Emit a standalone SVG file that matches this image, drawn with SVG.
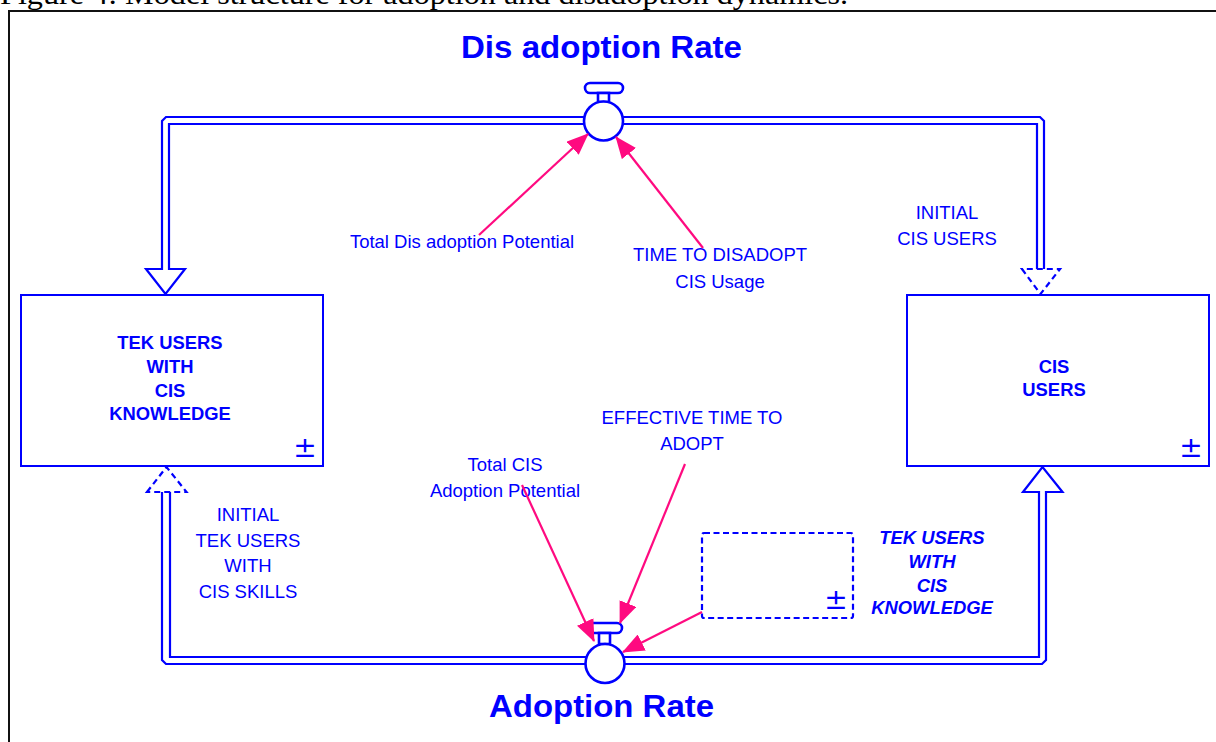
<svg xmlns="http://www.w3.org/2000/svg" width="1216" height="742" viewBox="0 0 1216 742">
  <defs>
    <marker id="arrow" viewBox="0 0 22 18" refX="21" refY="9" markerWidth="22" markerHeight="18" markerUnits="userSpaceOnUse" orient="auto">
      <path d="M0,0 L22,9 L0,18 Z" fill="#FF0A80"/>
    </marker>
    <style>
      .caption { font-family: "Liberation Serif", "Times New Roman", serif; font-size: 30px; fill: #000; }
      .frame { fill: none; stroke: #111; stroke-width: 2; }
      .pipe { fill: none; stroke: #0000FF; stroke-width: 2.2; stroke-linejoin: miter; }
      .dash { fill: none; stroke: #0000FF; stroke-width: 2.2; stroke-dasharray: 6 4; }
      .valve { fill: #fff; stroke: #0000FF; stroke-width: 2.6; }
      .stock { fill: #fff; stroke: #0000FF; stroke-width: 2; }
      .ghost { fill: #fff; stroke: #0000FF; stroke-width: 2.2; stroke-dasharray: 6 3.5; }
      .title { font-family: "Liberation Sans", Arial, sans-serif; font-size: 32px; font-weight: bold; fill: #0000FF; text-anchor: middle; }
      .name { font-family: "Liberation Sans", Arial, sans-serif; font-size: 18.4px; font-weight: bold; fill: #0000FF; text-anchor: middle; }
      .ghostname { font-family: "Liberation Sans", Arial, sans-serif; font-size: 18.4px; font-weight: bold; font-style: italic; fill: #0000FF; text-anchor: middle; }
      .label { font-family: "Liberation Sans", Arial, sans-serif; font-size: 18.5px; fill: #0000FF; text-anchor: middle; }
      .pm { font-family: "DejaVu Sans", sans-serif; font-size: 28px; fill: #0000FF; text-anchor: middle; }
      .link { fill: none; stroke: #FF0A80; stroke-width: 2.2; marker-end: url(#arrow); }
    </style>
  </defs>

  <rect width="1216" height="742" fill="#fff"/>

  <!-- caption and page frame -->
  <text class="caption" x="0" y="4" textLength="848" lengthAdjust="spacingAndGlyphs">Figure 4: Model structure for adoption and disadoption dynamics.</text>
  <path class="frame" d="M9,742 V11 H1216"/>

  <!-- flow pipes -->
  <g id="flow-pipes">
    <!-- disadoption flow: valve to left stock -->
    <path class="pipe" d="M585,117 H166 L162,121 V269 H146 L165.5,294 L185,269 H169 V124 H585"/>
    <!-- disadoption flow: toward right stock -->
    <path class="pipe" d="M622,117 H1040 L1044,121 V269 M622,124 H1037 V269"/>
    <path class="dash" d="M1022,269 L1040.5,294 L1060,269 Z"/>
    <!-- adoption flow: left stock side -->
    <path class="pipe" d="M586,657 H170 V492 M586,664 H166 L162,660 V492"/>
    <path class="dash" d="M147,492 L166.5,467 L186.5,492 Z"/>
    <!-- adoption flow: valve to right stock -->
    <path class="pipe" d="M624,657 H1039 V492 H1023 L1042.5,467 L1062.5,492 H1046 V660 L1042,664 H624"/>
  </g>

  <!-- flow valves -->
  <g id="disadoption-rate">
    <rect class="valve" x="585" y="83" width="38" height="10" rx="5"/>
    <rect class="valve" x="598" y="93" width="11" height="9"/>
    <circle class="valve" cx="603.5" cy="121" r="19.5"/>
    <text class="title" x="601.5" y="58" textLength="281" lengthAdjust="spacingAndGlyphs">Dis adoption Rate</text>
  </g>

  <g id="adoption-rate">
    <rect class="valve" x="587" y="623" width="35" height="10" rx="5"/>
    <rect class="valve" x="599" y="633" width="11" height="11"/>
    <circle class="valve" cx="605" cy="663.5" r="19.5"/>
    <text class="title" x="601.5" y="717" textLength="225" lengthAdjust="spacingAndGlyphs">Adoption Rate</text>
  </g>

  <!-- stocks -->
  <g id="tek-users-with-cis-knowledge">
    <rect class="stock" x="21" y="295" width="302" height="171"/>
    <text class="name" x="170" y="349">TEK USERS</text>
    <text class="name" x="170" y="373">WITH</text>
    <text class="name" x="170" y="397">CIS</text>
    <text class="name" x="170" y="420">KNOWLEDGE</text>
    <text class="pm" x="305" y="457">±</text>
  </g>

  <g id="cis-users">
    <rect class="stock" x="907" y="295" width="302" height="171"/>
    <text class="name" x="1054" y="373">CIS</text>
    <text class="name" x="1054" y="396">USERS</text>
    <text class="pm" x="1191" y="457">±</text>
  </g>

  <g id="tek-users-with-cis-knowledge-ghost">
    <rect class="ghost" x="702" y="533" width="151" height="85" rx="2"/>
    <text class="pm" x="836" y="609">±</text>
    <text class="ghostname" x="932" y="544">TEK USERS</text>
    <text class="ghostname" x="932" y="568">WITH</text>
    <text class="ghostname" x="932" y="592">CIS</text>
    <text class="ghostname" x="932" y="614">KNOWLEDGE</text>
  </g>

  <!-- auxiliaries and constants -->
  <g id="total-dis-adoption-potential">
    <text class="label" x="462" y="248">Total Dis adoption Potential</text>
  </g>
  <g id="time-to-disadopt-cis-usage">
    <text class="label" x="720" y="261">TIME TO DISADOPT</text>
    <text class="label" x="720" y="288">CIS Usage</text>
  </g>
  <g id="initial-cis-users">
    <text class="label" x="947" y="219">INITIAL</text>
    <text class="label" x="947" y="245">CIS USERS</text>
  </g>
  <g id="effective-time-to-adopt">
    <text class="label" x="692" y="424">EFFECTIVE TIME TO</text>
    <text class="label" x="692" y="450">ADOPT</text>
  </g>
  <g id="total-cis-adoption-potential">
    <text class="label" x="505" y="471">Total CIS</text>
    <text class="label" x="505" y="497">Adoption Potential</text>
  </g>
  <g id="initial-tek-users-with-cis-skills">
    <text class="label" x="248" y="521">INITIAL</text>
    <text class="label" x="248" y="547">TEK USERS</text>
    <text class="label" x="248" y="572">WITH</text>
    <text class="label" x="248" y="598">CIS SKILLS</text>
  </g>

  <!-- causal links -->
  <g id="links">
    <line class="link" x1="479" y1="235" x2="588" y2="134"/>
    <line class="link" x1="703" y1="248" x2="616" y2="137"/>
    <line class="link" x1="522" y1="485" x2="594" y2="641"/>
    <line class="link" x1="685" y1="464" x2="620" y2="623"/>
    <line class="link" x1="702" y1="612" x2="623" y2="652"/>
  </g>
</svg>
